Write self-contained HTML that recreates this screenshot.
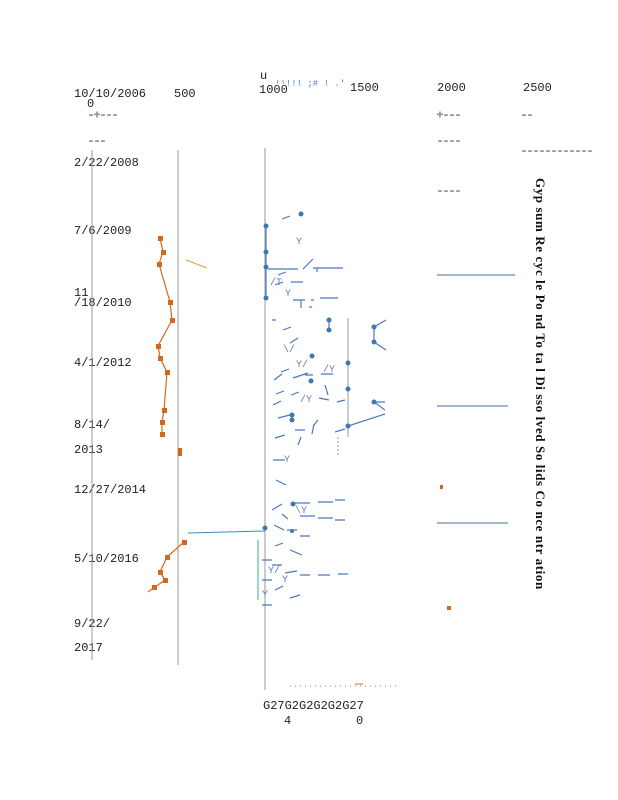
<!DOCTYPE html>
<html><head><meta charset="utf-8"><style>
html,body{margin:0;padding:0;background:#fff;}
svg{display:block;font-family:"Liberation Mono",monospace;}
</style></head><body>
<svg width="618" height="800" xmlns="http://www.w3.org/2000/svg">
<rect width="618" height="800" fill="#fff"/>
<g font-size="12" fill="#222">
<text x="74" y="97">10/10/2006</text>
<text x="87" y="107">0</text>
<text x="174" y="97">500</text>
<text x="259" y="93">1000</text>
<text x="350" y="91">1500</text>
<text x="437" y="91">2000</text>
<text x="523" y="91">2500</text>
<text x="260" y="79">u</text>
<text x="74" y="166">2/22/2008</text>
<text x="74" y="234">7/6/2009</text>
<text x="74" y="296">11</text>
<text x="74" y="306">/18/2010</text>
<text x="74" y="366">4/1/2012</text>
<text x="74" y="428">8/14/</text>
<text x="74" y="453">2013</text>
<text x="74" y="493">12/27/2014</text>
<text x="74" y="562">5/10/2016</text>
<text x="74" y="627">9/22/</text>
<text x="74" y="651">2017</text>
<text x="263" y="709">G27G2G2G2G2G27</text>
<text x="284" y="724">4</text>
<text x="356" y="724">0</text>
</g>
<g stroke="#999" stroke-width="1" font-size="10" fill="#999">
<text x="88" y="118">-+---</text>
<text x="437" y="118">+---</text>
<text x="521" y="118">--</text>
<text x="88" y="144">---</text>
<text x="437" y="144">----</text>
<text x="521" y="154">------------</text>
<text x="437" y="194">----</text>
<line x1="92" y1="150" x2="92" y2="660"/>
<line x1="178" y1="150" x2="178" y2="665"/>
<line x1="265" y1="148" x2="265" y2="690"/>
<line x1="348" y1="318" x2="348" y2="437"/>
<line x1="338" y1="437" x2="338" y2="455" stroke-dasharray="2,2"/>
</g>
<g stroke="#4a6fa0" stroke-width="1">
<line x1="437" y1="275" x2="515" y2="275"/>
<line x1="437" y1="406" x2="508" y2="406"/>
<line x1="437" y1="523" x2="508" y2="523"/>
<line x1="188" y1="533" x2="265" y2="531" stroke="#3a8fb0"/>
<line x1="258" y1="540" x2="258" y2="600" stroke="#4a8"/>
</g>
<g font-family="Liberation Serif,serif" font-weight="bold" font-size="13" fill="#111">
<text transform="translate(536,178) rotate(90)" letter-spacing="0.6">Gyp sum  Re cyc le  Po nd  To ta l Di sso lved  So lids  Co nce ntr ation</text>
</g>
<g fill="#d2691e">
<rect x="158" y="236" width="5" height="5"/><rect x="161" y="250" width="5" height="5"/>
<rect x="157" y="262" width="5" height="5"/><rect x="168" y="300" width="5" height="5"/>
<rect x="170" y="318" width="5" height="5"/><rect x="156" y="344" width="5" height="5"/>
<rect x="158" y="356" width="5" height="5"/><rect x="165" y="370" width="5" height="5"/>
<rect x="162" y="408" width="5" height="5"/><rect x="160" y="420" width="5" height="5"/>
<rect x="160" y="432" width="5" height="5"/><rect x="178" y="448" width="4" height="8"/>
<rect x="182" y="540" width="5" height="5"/><rect x="165" y="555" width="5" height="5"/>
<rect x="158" y="570" width="5" height="5"/><rect x="163" y="578" width="5" height="5"/>
<rect x="152" y="585" width="5" height="5"/><rect x="447" y="606" width="4" height="4"/>
<rect x="440" y="485" width="3" height="4"/>
</g>
<polyline fill="none" stroke="#d2691e" stroke-width="1.2" points="160,238 163,252 159,264 170,302 172,320 158,346 160,358 167,372 164,410 162,422 162,434"/>
<polyline fill="none" stroke="#d2691e" stroke-width="1.2" points="184,542 167,557 160,572 165,580 148,592"/>
<line x1="186" y1="260" x2="207" y2="268" stroke="#e8a020"/>
<g fill="#3a78b0">
<circle cx="266" cy="226" r="2.5"/><circle cx="266" cy="252" r="2.5"/><circle cx="266" cy="267" r="2.5"/><circle cx="266" cy="298" r="2.5"/>
<circle cx="301" cy="214" r="2.5"/>
<circle cx="329" cy="320" r="2.5"/><circle cx="329" cy="330" r="2.5"/><circle cx="374" cy="327" r="2.5"/>
<circle cx="374" cy="342" r="2.5"/><circle cx="348" cy="363" r="2.5"/><circle cx="348" cy="389" r="2.5"/>
<circle cx="374" cy="402" r="2.5"/><circle cx="312" cy="356" r="2.5"/><circle cx="311" cy="381" r="2.5"/>
<circle cx="292" cy="415" r="2.5"/><circle cx="292" cy="420" r="2.5"/><circle cx="348" cy="426" r="2.5"/>
<circle cx="293" cy="504" r="2.5"/><circle cx="265" cy="528" r="2.5"/><circle cx="292" cy="531" r="2"/>
</g>
<g stroke="#4a78c0" stroke-width="1.2" fill="none">
<polyline points="266,226 266,298"/>
<polyline points="329,320 329,330"/>
<polyline points="386,320 374,327 374,342 386,350"/>
<polyline points="348,426 385,414"/>
<polyline points="385,402 374,402 385,410"/>
<path d="M282 219 l8 -3 M303 269 l10 -10 M313 268 l30 0 M317 268 l0 4 M268 269 l30 0 M278 275 l8 -3 M275 285 l8 -3 M291 282 l12 0 M293 300 l12 0 M301 300 l0 8 M311 300 l3 0 M312 307 l-3 0 M320 298 l18 0 M272 320 l4 0 M283 330 l8 -3 M290 343 l8 -5 M281 372 l8 -3 M274 380 l8 -6 M276 394 l8 -3 M293 378 l15 -5 M305 375 l8 0 M321 374 l12 0 M325 385 l3 10 M319 398 l10 2 M291 395 l8 -3 M337 402 l8 -2 M273 405 l8 -4 M278 418 l12 -3 M295 430 l10 0 M318 420 l-4 5 M335 432 l10 -3 M275 438 l10 -3 M312 434 l2 -10 M273 460 l12 0 M298 445 l3 -8 M276 480 l10 5 M272 510 l10 -6 M295 503 l15 0 M318 502 l15 0 M335 500 l10 0 M282 514 l6 5 M300 516 l15 0 M318 518 l15 0 M335 520 l10 0 M274 525 l10 5 M287 530 l10 0 M300 536 l10 0 M275 546 l8 -3 M290 550 l12 5 M272 565 l10 0 M285 573 l12 -2 M300 575 l10 0 M318 575 l12 0 M338 574 l10 0 M262 560 l10 0 M262 580 l10 0 M262 605 l10 0 M275 590 l8 -4 M290 598 l10 -3"/>
</g>
<g fill="#5b7fc0" font-size="10">
<text x="296" y="244">Y</text><text x="270" y="285">/T</text><text x="285" y="296">Y</text>
<text x="296" y="367">Y/</text><text x="283" y="352">\/</text><text x="300" y="402">/Y</text>
<text x="323" y="372">/Y</text><text x="284" y="462">Y</text><text x="295" y="513">\Y</text>
<text x="268" y="573">Y/</text><text x="282" y="582">Y</text><text x="262" y="597">Y</text>
</g>
<text x="275" y="86" font-size="9" fill="#5b7fc0">!!!!! ;#  ! .'</text>
<line x1="290" y1="686" x2="400" y2="686" stroke="#88a" stroke-dasharray="1,4"/>
<line x1="355" y1="684" x2="363" y2="684" stroke="#d2691e"/>
</svg>
</body></html>
